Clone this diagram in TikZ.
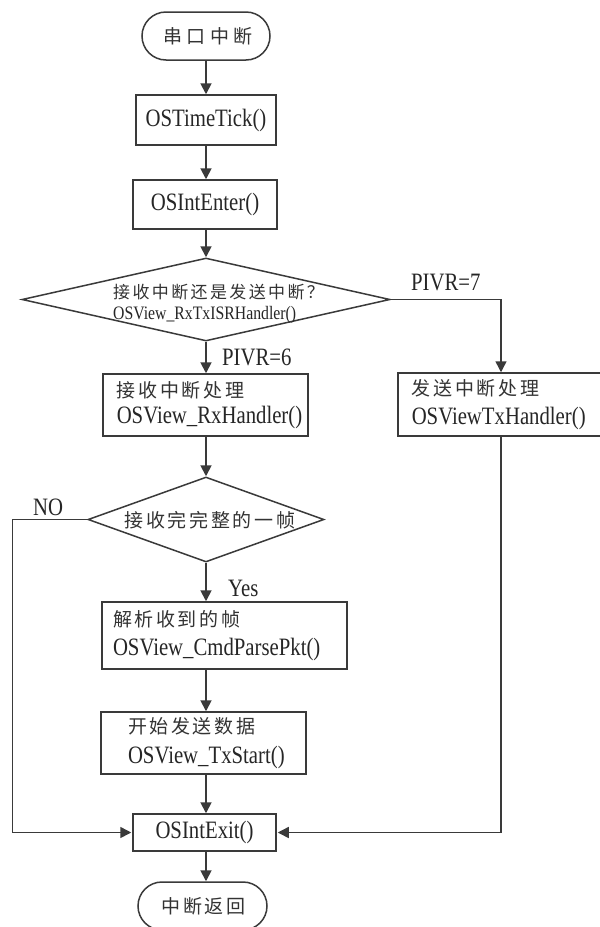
\documentclass[tikz,border=0pt]{standalone}
\usepackage{fontspec}
\setmainfont{Liberation Serif}[FakeStretch=0.83]
\newfontfamily\cjk{Noto Sans CJK SC}[LetterSpace=14]
\newfontfamily\cjkw{Noto Sans CJK SC}[LetterSpace=24]
\usetikzlibrary{shapes.geometric,arrows.meta}
\definecolor{ln}{HTML}{3A3A3A}
\definecolor{tx}{HTML}{262626}
\definecolor{cx}{HTML}{333333}
\begin{document}
\begin{tikzpicture}[x=1pt,y=-1pt,
  line/.style={draw=ln, line width=1.5pt},
  arr/.style={draw=ln, line width=1.8pt, -{Triangle[length=11pt,width=11pt]}},
  term/.style={draw=ln, line width=1.5pt, rectangle, rounded corners=24pt,
     minimum height=48pt, inner sep=0pt, text=cx,
     font=\cjk\fontsize{19}{22}\selectfont},
  pbox/.style={draw=ln, line width=1.5pt, rectangle, inner sep=0pt, text=tx,
     font=\fontsize{25}{26}\selectfont},
  tbox/.style={pbox, text width=#1, align=left},
  dec/.style={draw=ln, line width=1.5pt, diamond, inner sep=0pt},
  lbl/.style={anchor=west, inner sep=0pt, text=tx, font=\fontsize{25}{26}\selectfont}
]
\useasboundingbox (0,0) rectangle (600,927);
\fill[white] (0,0) rectangle (600,927);
\clip (0,0) rectangle (600,927);

% nodes
\node[term, minimum width=128pt, font=\cjkw\fontsize{19}{22}\selectfont] (start) at (206,36) {\hspace*{4pt}串口中断};
\node[pbox, minimum width=140pt, minimum height=50pt] (tick) at (206,120) {OSTimeTick()};
\node[pbox, minimum width=144pt, minimum height=49pt] (enter) at (205,204.5) {OSIntEnter()};
\node[dec, minimum width=368pt, minimum height=83pt] (dec1) at (206,299.5) {};
\node[anchor=west, inner sep=0pt, align=left, text=tx, font=\fontsize{19}{21}\selectfont] (q1) at (113,304)
  {{\cjk\color{cx}\fontsize{17}{21}\selectfont 接收中断还是发送中断？}\\OSView\_RxTxISRHandler()};
\node[tbox=205pt, minimum height=62pt, font=\fontsize{25}{26}\selectfont, anchor=west] (rx) at (102,405)
  {\hspace*{14pt}{\cjk\color{cx}\fontsize{19}{26}\selectfont 接收中断处理}\\\hspace*{14pt}OSView\_RxHandler()};
\node[tbox=260pt, minimum height=63pt, font=\fontsize{25}{29}\selectfont, anchor=west] (tx) at (397,404.5)
  {\hspace*{14pt}{\cjk\color{cx}\fontsize{19}{29}\selectfont 发送中断处理}\\\hspace*{14pt}OSViewTxHandler()};
\coordinate (txin) at (501,372);
\node[dec, minimum width=236pt, minimum height=85pt] (dec2) at (206,519.5) {};
\node[inner sep=0pt, text=cx, font=\cjk\fontsize{19}{22}\selectfont] (q2) at (210,520) {接收完完整的一帧};
\node[tbox=245pt, minimum height=67pt, font=\fontsize{25}{29}\selectfont] (parse) at (224.5,635.5)
  {\hspace*{11pt}{\cjk\color{cx}\fontsize{19}{29}\selectfont 解析收到的帧}\\\hspace*{11pt}OSView\_CmdParsePkt()};
\node[tbox=205pt, minimum height=62pt, font=\fontsize{25}{30}\selectfont] (txs) at (203.5,743)
  {\hspace*{27pt}{\cjk\color{cx}\fontsize{19}{30}\selectfont 开始发送数据}\\\hspace*{27pt}OSView\_TxStart()};
\node[pbox, minimum width=143pt, minimum height=37pt] (exit) at (204.5,832.5) {OSIntExit()};
\node[term, minimum width=129pt] (end) at (202.5,906) {\hspace*{2pt}中断返回};

% labels
\node[lbl] (l6) at (222,357) {PIVR=6};
\node[lbl] (l7) at (411,282) {PIVR=7};
\node[lbl] (lyes) at (228,588) {Yes};
\node[lbl] (lno) at (33,507) {NO};

% connectors
\draw[arr] (start.south) -- (start.south |- tick.north);
\draw[arr] (tick.south) -- (tick.south |- enter.north);
\draw[arr] (dec1.north |- enter.south) -- (dec1.north);
\draw[arr] (dec1.south) -- (dec1.south |- rx.north);
\draw[arr, line width=1.5pt] (dec1.east) -| (txin |- tx.north);
\draw[arr] (dec2.north |- rx.south) -- (dec2.north);
\draw[arr] (dec2.south) -- (dec2.south |- parse.north);
\draw[arr] (dec2.south |- parse.south) -- (dec2.south |- txs.north);
\draw[arr] (dec2.south |- txs.south) -- (dec2.south |- exit.north);
\draw[arr, line width=1.5pt] (dec2.west) -- ++(-75,0) |- ([xshift=-1pt]exit.west);
\draw[arr, line width=1.5pt] (txin |- tx.south) |- ([xshift=1pt]exit.east);
\draw[arr] (dec2.south |- exit.south) -- (dec2.south |- end.north);
\end{tikzpicture}
\end{document}
